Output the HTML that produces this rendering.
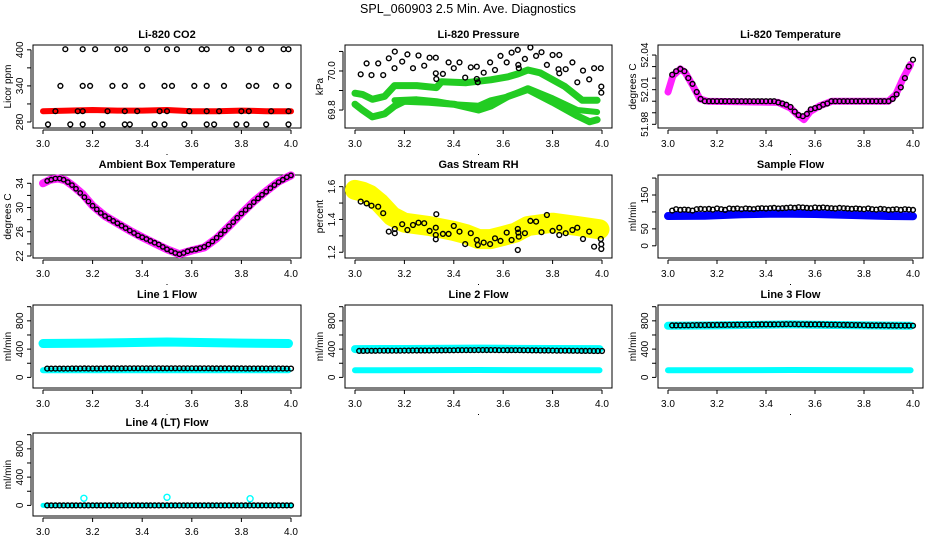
<!DOCTYPE html>
<html><head><meta charset="utf-8"><style>
html,body{margin:0;padding:0;background:#fff;}
svg{display:block;font-family:"Liberation Sans",Arial,sans-serif;}
</style></head><body>
<svg id="c" width="936" height="540" viewBox="0 0 936 540">
<text x="468" y="13" text-anchor="middle" font-size="12.5">SPL_060903  2.5 Min. Ave. Diagnostics</text>
</svg>
<script>
// ---- shared time axis ----
const T60 = [3.017,3.033,3.05,3.067,3.083,3.1,3.117,3.133,3.15,3.167,3.183,3.2,3.217,3.233,3.25,3.267,3.283,3.3,3.317,3.333,3.35,3.367,3.383,3.4,3.417,3.433,3.45,3.467,3.483,3.5,3.517,3.533,3.55,3.567,3.583,3.6,3.617,3.633,3.65,3.667,3.683,3.7,3.717,3.733,3.75,3.767,3.783,3.8,3.817,3.833,3.85,3.867,3.883,3.9,3.917,3.933,3.95,3.967,3.983,4.0];
const xTicks = [3.0,3.2,3.4,3.6,3.8,4.0];
const xTickLabels = ["3.0","3.2","3.4","3.6","3.8","4.0"];

// ---- CO2 ----
const co2BandX = [3.0,3.1,3.2,3.3,3.4,3.5,3.6,3.7,3.8,3.9,4.0];
const co2BandY = [298,299,300,299,299,300,298,298,299,298,298];
const co2PtsX = [3.09,3.16,3.21,3.30,3.33,3.42,3.50,3.54,3.64,3.66,3.76,3.83,3.88,3.97,3.99,
 3.07,3.16,3.19,3.28,3.33,3.40,3.49,3.52,3.61,3.66,3.73,3.83,3.86,3.94,3.99,
 3.05,3.14,3.16,3.26,3.33,3.38,3.47,3.50,3.59,3.66,3.71,3.80,3.83,3.92,3.99,
 3.02,3.11,3.16,3.24,3.33,3.35,3.45,3.49,3.57,3.66,3.69,3.78,3.82,3.90,3.99];
const co2PtsY = [401,401,401,401,401,401,401,401,401,401,401,401,401,401,401,
 340,340,340,340,340,340,340,340,340,340,340,340,340,340,340,
 298,298,298,298,298,298,298,298,298,298,298,298,298,298,298,
 276,276,276,276,276,276,276,276,276,276,276,276,276,276,276];

// ---- Pressure ----
const presAX = [3.0,3.03,3.07,3.12,3.16,3.25,3.33,3.35,3.45,3.55,3.62,3.66,3.7,3.75,3.85,3.92,3.98];
const presAY = [69.886,69.88,69.855,69.87,69.925,69.925,69.915,69.945,69.94,69.955,69.97,69.985,70.005,69.99,69.92,69.85,69.85];
const presBX = [3.16,3.25,3.33,3.4,3.5,3.55,3.62,3.7,3.8,3.9,3.98];
const presBY = [69.85,69.855,69.845,69.83,69.822,69.85,69.87,69.912,69.86,69.8,69.79];
const presCX = [3.0,3.03,3.07,3.12,3.16,3.2,3.3,3.4,3.5,3.55,3.62,3.7,3.8,3.9,3.95,3.98];
const presCY = [69.83,69.8,69.765,69.78,69.82,69.845,69.84,69.83,69.8,69.82,69.87,69.905,69.84,69.77,69.74,69.75];
const presPtsX = [3.023,3.047,3.067,3.094,3.114,3.137,3.161,3.160,3.191,3.212,3.235,3.257,3.280,3.302,3.327,3.327,3.329,3.356,3.379,3.400,3.423,3.446,3.469,3.493,3.493,3.497,3.521,3.547,3.567,3.589,3.614,3.634,3.659,3.661,3.663,3.688,3.710,3.733,3.755,3.777,3.800,3.827,3.827,3.824,3.853,3.880,3.900,3.923,3.948,3.968,3.995,3.997,3.997];
const presPtsY = [69.983,70.039,69.979,70.039,69.979,70.065,70.099,70.014,70.048,70.085,70.014,70.079,70.027,70.068,70.068,69.988,69.959,69.985,70.044,70.014,70.044,69.966,70.019,70.022,69.959,69.942,69.991,70.044,70.005,70.077,70.044,70.094,70.108,70.031,70.014,70.062,70.12,70.077,70.096,70.031,70.082,70.082,69.988,70.009,70.009,70.044,69.942,70.002,69.957,70.014,70.014,69.92,69.889];

// ---- Li-820 Temperature ----
const ltBandX = [3.0,3.02,3.05,3.07,3.1,3.13,3.16,3.45,3.5,3.53,3.555,3.58,3.62,3.67,3.9,3.93,3.96,3.99];
const ltBandY = [52.008,52.022,52.028,52.025,52.014,52.002,52.0,51.999,51.994,51.988,51.984,51.991,51.996,52.0,52.0,52.006,52.02,52.032];
const ltPts = [52.023,52.026,52.028,52.026,52.02,52.015,52.008,52.002,52.0,52.0,
 52.0,52.0,52.0,52.0,52.0,52.0,52.0,52.0,52.0,52.0,52.0,52.0,52.0,52.0,52.0,52.0,
 51.999,51.998,51.997,51.995,51.991,51.988,51.987,51.989,51.993,51.994,51.995,51.997,51.998,52.0,
 52.0,52.0,52.0,52.0,52.0,52.0,52.0,52.0,52.0,52.0,52.0,52.0,52.0,52.0,
 52.002,52.006,52.012,52.02,52.03,52.036];

// ---- Ambient Box Temperature ----
const ambBandX = [3.0,3.03,3.06,3.09,3.12,3.16,3.2,3.25,3.3,3.35,3.4,3.45,3.5,3.55,3.6,3.65,3.7,3.75,3.8,3.85,3.9,3.95,4.0];
const ambBandY = [34.0,34.6,34.8,34.5,33.6,32.2,30.3,28.6,27.4,26.2,25.1,24.1,23.1,22.3,22.9,23.4,24.9,26.9,29.0,31.0,32.7,34.3,35.3];
const ambPts = [34.4,34.6,34.8,34.8,34.6,34.2,33.7,33.1,32.4,31.7,31.0,30.3,29.7,29.1,28.6,28.2,27.8,27.4,27.0,26.6,26.2,25.8,25.4,25.1,24.8,24.5,24.2,23.9,23.5,23.1,22.8,22.5,22.3,22.5,22.8,23.0,23.1,23.3,23.5,23.9,24.4,25.0,25.6,26.2,26.9,27.6,28.3,29.0,29.6,30.2,30.9,31.5,32.1,32.6,33.2,33.7,34.2,34.6,35.0,35.3];

// ---- Gas Stream RH ----
const rhBandX = [3.0,3.03,3.06,3.1,3.15,3.2,3.3,3.4,3.45,3.5,3.55,3.6,3.65,3.7,3.8,3.9,3.99];
const rhBandY = [1.58,1.57,1.55,1.5,1.42,1.38,1.36,1.33,1.31,1.28,1.28,1.3,1.32,1.36,1.38,1.36,1.34];
const rhPtsX = [3.023,3.047,3.067,3.094,3.114,3.137,3.161,3.161,3.191,3.212,3.235,3.257,3.280,3.302,3.327,3.327,3.327,3.329,3.356,3.379,3.400,3.423,3.446,3.469,3.493,3.497,3.521,3.547,3.567,3.589,3.614,3.634,3.659,3.661,3.663,3.659,3.688,3.710,3.733,3.755,3.777,3.800,3.827,3.827,3.853,3.880,3.900,3.923,3.948,3.968,3.995,3.997,3.997];
const rhPtsY = [1.509,1.498,1.484,1.478,1.438,1.326,1.342,1.316,1.371,1.336,1.366,1.380,1.377,1.330,1.350,1.305,1.279,1.432,1.312,1.312,1.360,1.326,1.250,1.316,1.275,1.244,1.259,1.250,1.285,1.269,1.320,1.275,1.342,1.320,1.295,1.214,1.316,1.391,1.387,1.322,1.427,1.330,1.350,1.305,1.316,1.336,1.350,1.281,1.326,1.234,1.281,1.249,1.220];

// ---- Sample Flow ----
const sfBandX = [3.0,3.15,3.3,3.45,3.6,3.75,3.9,4.0];
const sfBandY = [88,89,93,95,94,91,88,87];
const sfPts = [104,108,106,107,106,104,108,109,108,109,107,110,108,106,110,109,110,108,110,109,108,110,111,110,111,112,110,111,112,113,112,114,113,112,111,113,112,113,112,111,110,112,111,110,109,110,109,108,110,108,107,109,108,106,107,108,106,108,107,106];

// ---- Line flows ----
const l1UpX = [3.0,3.2,3.4,3.5,3.6,3.8,3.99];
const l1UpY = [480,485,495,500,495,485,480];
const l1LoX = [3.0,3.5,3.99];
const l1LoY = [100,102,100];
const l1Pts = [125,125,125,125,125,125,126,126,126,127,126,126,126,126,127,127,127,127,127,128,128,128,128,128,128,128,128,128,128,129,128,128,128,128,128,128,128,128,128,128,127,127,127,127,127,127,127,127,126,126,126,126,126,126,126,126,126,126,125,125];
const l2UpX = [3.0,3.2,3.4,3.5,3.6,3.8,3.99];
const l2UpY = [400,402,405,408,405,402,400];
const l2LoX = [3.0,3.5,3.99];
const l2LoY = [100,105,100];
const l2Pts = [375,375,376,376,376,377,377,378,378,378,378,379,379,380,380,380,381,381,382,382,382,383,383,383,384,384,384,385,385,386,386,386,386,386,385,385,385,384,384,384,383,383,382,382,381,381,380,379,378,378,377,377,376,376,375,375,375,374,374,374];
const l3UpX = [3.0,3.2,3.4,3.5,3.6,3.8,3.99];
const l3UpY = [730,735,745,750,745,735,730];
const l3LoX = [3.0,3.5,3.99];
const l3LoY = [100,105,100];
const l3Pts = [735,736,736,737,737,738,739,740,740,741,741,742,742,743,744,744,745,745,746,747,747,748,749,749,750,750,751,751,752,752,752,751,751,750,750,749,749,748,747,746,745,744,743,742,741,740,739,738,737,736,736,735,735,734,734,733,733,732,732,731];
const l4BandX = [3.0,4.0];
const l4BandY = [0,0];
const l4OutX = [3.165,3.5,3.835];
const l4OutY = [100,115,95];
const l4Pts = [0,0,0,0,0,0,0,0,0,0,0,0,0,0,0,0,0,0,0,0,0,0,0,0,0,0,0,0,0,0,0,0,0,0,0,0,0,0,0,0,0,0,0,0,0,0,0,0,0,0,0,0,0,0,0,0,0,0,0,0];

const svg = document.getElementById('c');
const NS = 'http://www.w3.org/2000/svg';
function mk(tag, attrs, parent){
  const e = document.createElementNS(NS, tag);
  for (const k in attrs) e.setAttribute(k, attrs[k]);
  (parent||svg).appendChild(e);
  return e;
}

// panel geometry
const COLS = [[33,301],[345,612],[658,923]];
const ROWS = [[45,128],[175,258],[305,388],[433,516]];

function makePanel(col,row,title,ylab,yMin,yMax,yTicks,yLabels,name){
  const [L,R] = COLS[col], [Tp,B] = ROWS[row];
  const g = mk('g',{});
  
  
  const xs = v => (L+10) + (v-3.0)*((R-10)-(L+10));
  const ys = v => B - (v-yMin)/(yMax-yMin)*(B-Tp);
  const t = mk('text',{x:(L+R)/2,y:Tp-7,'text-anchor':'middle','font-size':11,'font-weight':'bold'},g);
  t.textContent = title;
  
  
  const box = mk('rect',{x:L,y:Tp,width:R-L,height:B-Tp,fill:'none',stroke:'#000','stroke-width':1},g);
  
  
  const xa = mk('g',{},g);
  
  
  mk('line',{x1:xs(3.0),x2:xs(4.0),y1:B+2,y2:B+2,stroke:'#000'},xa);
  xTicks.forEach((v,i)=>{
    mk('line',{x1:xs(v),x2:xs(v),y1:B+2,y2:B+6,stroke:'#000'},xa);
    const tl = mk('text',{x:xs(v),y:B+19,'text-anchor':'middle','font-size':10},xa);
    tl.textContent = xTickLabels[i];
    
    
  });
  mk('rect',{x:(L+R)/2-0.5,y:B+26,width:1,height:1,fill:'#000'},xa);
  const ya = mk('g',{},g);
  
  
  mk('line',{x1:L-2,x2:L-2,y1:ys(yTicks[0]),y2:ys(yTicks[yTicks.length-1]),stroke:'#000'},ya);
  yTicks.forEach((v,i)=>{
    mk('line',{x1:L-6,x2:L-2,y1:ys(v),y2:ys(v),stroke:'#000'},ya);
    if (yLabels[i]){
      const tl = mk('text',{x:L-10,y:ys(v),'text-anchor':'middle','font-size':10,transform:`rotate(-90 ${L-10} ${ys(v)})`},ya);
      tl.textContent = yLabels[i];
      
      
    }
  });
  const yt = mk('text',{x:L-22,y:(Tp+B)/2,'text-anchor':'middle','font-size':10,transform:`rotate(-90 ${L-22} ${(Tp+B)/2})`},g);
  yt.textContent = ylab;
  
  
  return {g,xs,ys};
}
function band(p,X,Y,color,w,nm){
  const pts = X.map((x,i)=>p.xs(x).toFixed(1)+','+p.ys(Y[i]).toFixed(1)).join(' ');
  const e = mk('polyline',{points:pts,fill:'none',stroke:color,'stroke-width':w,'stroke-linejoin':'round','stroke-linecap':'round'},p.g);
  
  
}
function pts(p,X,Y,color,nm,r){
  const gg = mk('g',{},p.g);
  
  
  X.forEach((x,i)=>{
    const c = mk('circle',{cx:p.xs(x).toFixed(1),cy:p.ys(Y[i]).toFixed(1),r:r||2.4,fill:'none',stroke:color,'stroke-width':1.4},gg);
    
    
  });
}

// Panel 1 CO2
let p = makePanel(0,0,'Li-820 CO2','Licor ppm',270,408,[280,310,340,370,400],['280','','340','','400'],'co2');
band(p,co2BandX,co2BandY,'#ff0000',6,'co2-red-series');
pts(p,co2PtsX,co2PtsY,'#000','co2-black-series');

// Panel 2 Pressure
p = makePanel(1,0,'Li-820 Pressure','kPa',69.708,70.133,[69.8,69.9,70.0,70.1],['69.8','','70.0',''],'pressure');
band(p,presAX,presAY,'#22cc22',7,'pressure-green-band-a');
band(p,presBX,presBY,'#22cc22',6,'pressure-green-band-b');
band(p,presCX,presCY,'#22cc22',7,'pressure-green-band-c');
pts(p,presPtsX,presPtsY,'#000','pressure-black-series');

// Panel 3 Li-820 Temperature
p = makePanel(2,0,'Li-820 Temperature','degrees C',51.9768,52.0487,[51.98,51.99,52.0,52.01,52.02,52.03,52.04],['51.98','','','52.01','','','52.04'],'li820-temp');
band(p,ltBandX,ltBandY,'#ff22ff',7,'li820-temp-magenta-series');
pts(p,T60,ltPts,'#000','li820-temp-black-series');

// Panel 4 Ambient
p = makePanel(0,1,'Ambient Box Temperature','degrees C',21.67,35.37,[22,24,26,28,30,32,34],['22','','26','','30','','34'],'ambient');
band(p,ambBandX,ambBandY,'#ff22ff',8,'ambient-magenta-series');
pts(p,T60,ambPts,'#000','ambient-black-series',2.2);

// Panel 5 RH
p = makePanel(1,1,'Gas Stream RH','percent',1.165,1.671,[1.2,1.3,1.4,1.5,1.6],['1.2','','1.4','','1.6'],'rh');
band(p,rhBandX,rhBandY,'#ffff00',20,'rh-yellow-series');
pts(p,rhPtsX,rhPtsY,'#000','rh-black-series');

// Panel 6 Sample flow
p = makePanel(2,1,'Sample Flow','ml/min',-36,209,[0,50,100,150,200],['0','50','','150',''],'sample-flow');
band(p,sfBandX,sfBandY,'#0000ff',8,'sample-flow-blue-series');
pts(p,T60,sfPts,'#000','sample-flow-black-series');

// Line flows
const fTicks=[0,200,400,600,800,1000], fLabs=['0','','400','','800',''];
p = makePanel(0,2,'Line 1 Flow','ml/min',-150,1024,fTicks,fLabs,'line1');
band(p,l1UpX,l1UpY,'#00ffff',9,'line1-cyan-upper');
band(p,l1LoX,l1LoY,'#00ffff',6,'line1-cyan-lower');
pts(p,T60,l1Pts,'#000','line1-black-series');

p = makePanel(1,2,'Line 2 Flow','ml/min',-150,1024,fTicks,fLabs,'line2');
band(p,l2UpX,l2UpY,'#00ffff',8,'line2-cyan-upper');
band(p,l2LoX,l2LoY,'#00ffff',6,'line2-cyan-lower');
pts(p,T60,l2Pts,'#000','line2-black-series');

p = makePanel(2,2,'Line 3 Flow','ml/min',-150,1024,fTicks,fLabs,'line3');
band(p,l3UpX,l3UpY,'#00ffff',8,'line3-cyan-upper');
band(p,l3LoX,l3LoY,'#00ffff',6,'line3-cyan-lower');
pts(p,T60,l3Pts,'#000','line3-black-series');

p = makePanel(0,3,'Line 4 (LT) Flow','ml/min',-150,1024,fTicks,fLabs,'line4');
band(p,l4BandX,l4BandY,'#00ffff',5,'line4-cyan-series');
pts(p,l4OutX,l4OutY,'#00ffff','line4-cyan-outliers',3);
pts(p,T60,l4Pts,'#000','line4-black-series');
</script>
</body></html>
